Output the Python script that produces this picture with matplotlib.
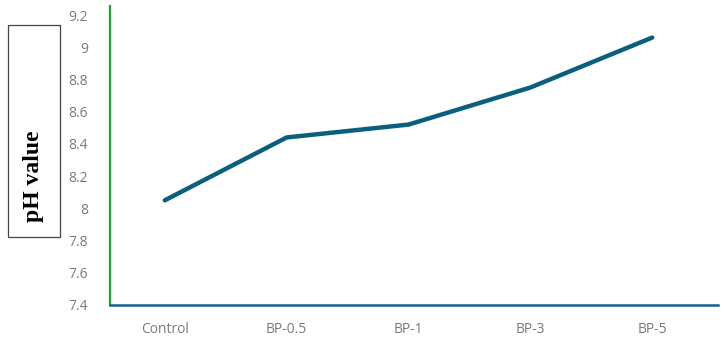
import matplotlib
matplotlib.use("Agg")
import matplotlib.pyplot as plt
from matplotlib.patches import Rectangle

categories = ["Control", "BP-0.5", "BP-1", "BP-3", "BP-5"]
ph_values = [8.05, 8.44, 8.52, 8.75, 9.06]
yticks = [7.4, 7.6, 7.8, 8.0, 8.2, 8.4, 8.6, 8.8, 9.0, 9.2]
ytick_labels = ["7.4", "7.6", "7.8", "8", "8.2", "8.4", "8.6", "8.8", "9", "9.2"]

W, H = 724, 338
fig = plt.figure(figsize=(W / 100, H / 100), dpi=100)
ax = fig.add_axes([110 / W, (H - 305) / H, (718 - 110) / W, (305 - 6) / H])

x = list(range(len(categories)))
ax.plot(x, ph_values, color="#0b5f7e", lw=3.2, solid_capstyle="round")

ax.set_xlim(-0.45, 4.54)
ax.set_ylim(7.4, 9.256)
ax.set_xticks(x)
ax.set_xticklabels(categories, color="#7a7a7a", fontsize=10, family="Open Sans")
ax.set_yticks(yticks)
ax.set_yticklabels(ytick_labels, color="#7a7a7a", fontsize=10, family="Open Sans")
ax.tick_params(axis="both", length=0)
ax.tick_params(axis="y", pad=16)
ax.tick_params(axis="x", pad=12)

for s in ["top", "right"]:
    ax.spines[s].set_visible(False)
ax.spines["left"].set_color("#1aa52a")
ax.spines["left"].set_linewidth(1.6)
ax.spines["bottom"].set_color("#17618a")
ax.spines["bottom"].set_linewidth(1.8)

fig.text(34 / W, (H - 176) / H, "pH value", rotation=90, ha="center", va="center",
         fontsize=17, fontweight="bold", family="Liberation Serif")
fig.patches.append(Rectangle((8 / W, (H - 237) / H), 52 / W, 212 / H, transform=fig.transFigure,
                             facecolor="none", edgecolor="#444444", lw=0.9))

fig.savefig("out.png", dpi=100)
